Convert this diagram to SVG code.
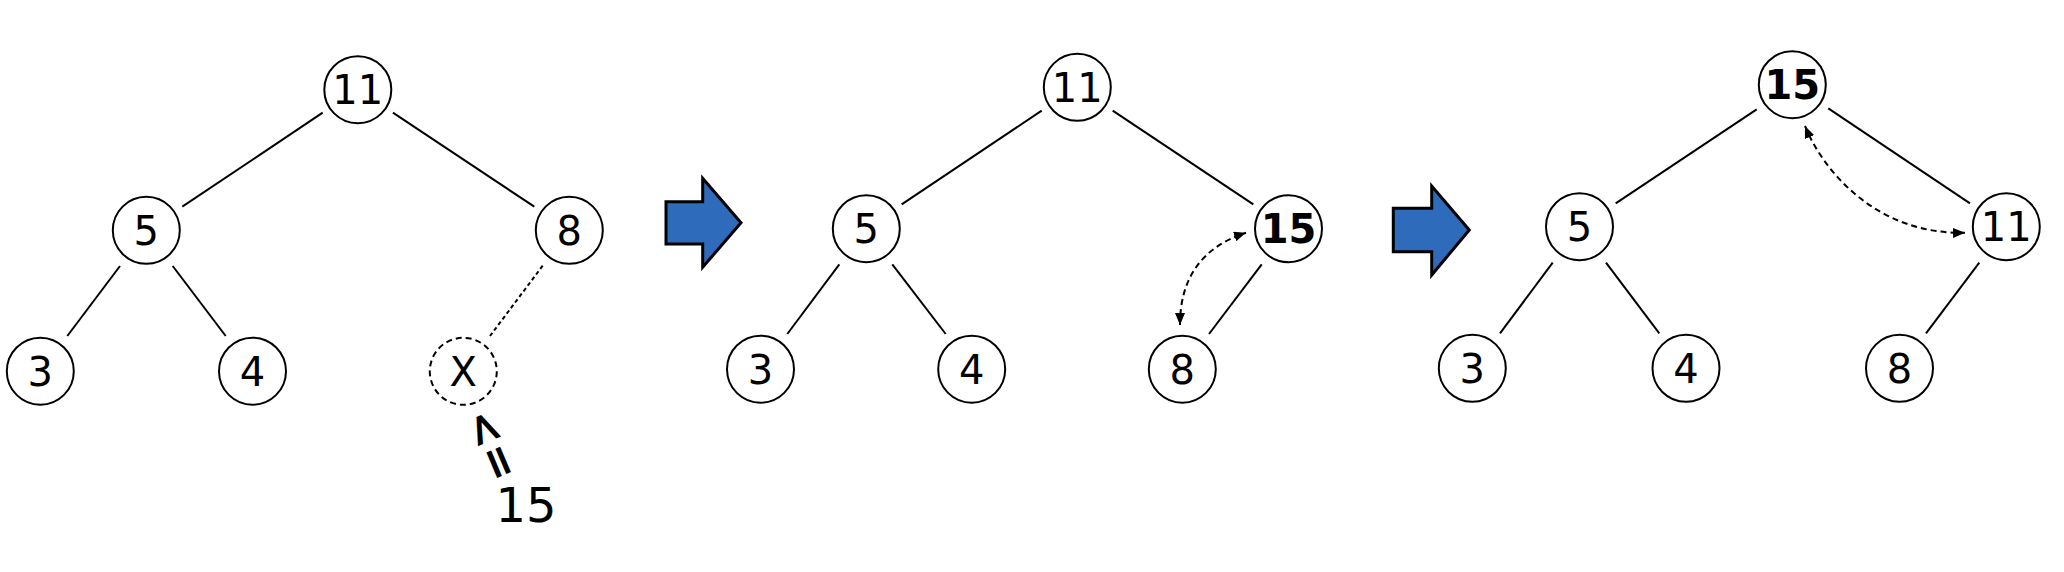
<svg xmlns="http://www.w3.org/2000/svg" width="2064" height="572" viewBox="0 0 2064 572">
<style>
.n{fill:#fff;stroke:#000;stroke-width:2}
.nd{fill:#fff;stroke:#000;stroke-width:2;stroke-dasharray:6 4}
.t{font-family:"DejaVu Sans",sans-serif;font-size:40px;text-anchor:middle;fill:#000}
.b{font-weight:bold}
.e{stroke:#000;stroke-width:2;fill:none}
.dot{stroke:#000;stroke-width:2;fill:none;stroke-dasharray:4 3}
.sw{stroke:#000;stroke-width:2;fill:none;stroke-dasharray:6 4}
.big{fill:#2F6BBB;stroke:#000;stroke-width:3}
</style>
<defs>
<marker id="ah" viewBox="0 0 12 10" refX="12" refY="5" markerWidth="12" markerHeight="10" markerUnits="userSpaceOnUse" orient="auto-start-reverse">
<path d="M0,0 L12,5 L0,10 Z" fill="#000"/>
</marker>
</defs>
<rect width="2064" height="572" fill="#fff"/>
<g id="connectors">
<line class="e" x1="322.7" y1="112.7" x2="182.3" y2="206.7"/>
<line class="e" x1="392.9" y1="112.7" x2="534.3" y2="206.7"/>
<line class="e" x1="120" y1="266" x2="67.3" y2="336"/>
<line class="e" x1="172.7" y1="266" x2="225.7" y2="336"/>
<line class="dot" x1="542.7" y1="265.7" x2="490" y2="336"/>
<line class="e" x1="1041.7" y1="110.7" x2="901.7" y2="204.3"/>
<line class="e" x1="1112.7" y1="110.7" x2="1253.3" y2="204.3"/>
<line class="e" x1="839.3" y1="264.3" x2="787.3" y2="334"/>
<line class="e" x1="892.3" y1="264.3" x2="945.7" y2="334"/>
<line class="e" x1="1261.7" y1="264.3" x2="1209" y2="334"/>
<path class="sw" d="M1180,325 C1180,280 1200,248 1246,232.7" marker-start="url(#ah)" marker-end="url(#ah)"/>
<line class="e" x1="1756.7" y1="109.3" x2="1615.7" y2="203.3"/>
<line class="e" x1="1828.3" y1="108.3" x2="1970" y2="203.3"/>
<line class="e" x1="1552.7" y1="262.7" x2="1500" y2="333.3"/>
<line class="e" x1="1606" y1="262.7" x2="1659.3" y2="333.3"/>
<line class="e" x1="1979.3" y1="262.7" x2="1926" y2="333.3"/>
<path class="sw" d="M1805,126 C1825,175 1880,235 1965,232.7" marker-start="url(#ah)" marker-end="url(#ah)"/>
</g>
<g id="step-arrow-1"><polygon class="big" points="666,201.7 702.7,201.7 702.7,178.3 741,222.7 702.7,267.3 702.7,244 666,244"/></g>
<g id="step-arrow-2"><polygon class="big" points="1393.3,208.3 1431.7,208.3 1431.7,186 1469.3,230 1431.7,275 1431.7,251.7 1393.3,251.7"/></g>
<g id="t1-11"><circle class="n" cx="357.8" cy="89.7" r="33.5"/><text class="t" x="357.8" y="104.1">11</text></g>
<g id="t1-5"><circle class="n" cx="146.3" cy="230.3" r="33.5"/><text class="t" x="146.3" y="244.7">5</text></g>
<g id="t1-8"><circle class="n" cx="569.3" cy="230.3" r="33.5"/><text class="t" x="569.3" y="244.7">8</text></g>
<g id="t1-3"><circle class="n" cx="40.3" cy="371.2" r="33.5"/><text class="t" x="40.3" y="385.6">3</text></g>
<g id="t1-4"><circle class="n" cx="252.5" cy="371.2" r="33.5"/><text class="t" x="252.5" y="385.6">4</text></g>
<g id="t1-x"><circle class="nd" cx="463.3" cy="371.3" r="33.5"/><text class="t" x="463.3" y="385.7">X</text></g>
<g id="label-le-15">
<text font-family="DejaVu Sans, sans-serif" font-size="44" font-weight="bold" text-anchor="middle" transform="translate(492.5,445) rotate(67)" y="15">&lt;=</text>
<text font-family="DejaVu Sans, sans-serif" font-size="48" text-anchor="middle" x="526" y="521.5">15</text>
</g>
<g id="t2-11"><circle class="n" cx="1077.3" cy="87.3" r="33.5"/><text class="t" x="1077.3" y="101.7">11</text></g>
<g id="t2-5"><circle class="n" cx="866.3" cy="228.7" r="33.5"/><text class="t" x="866.3" y="243.1">5</text></g>
<g id="t2-15"><circle class="n" cx="1288.5" cy="228.7" r="33.5"/><text class="t b" x="1288.5" y="243.1">15</text></g>
<g id="t2-3"><circle class="n" cx="760.5" cy="369.2" r="33.5"/><text class="t" x="760.5" y="383.6">3</text></g>
<g id="t2-4"><circle class="n" cx="971.7" cy="369.2" r="33.5"/><text class="t" x="971.7" y="383.6">4</text></g>
<g id="t2-8"><circle class="n" cx="1182.3" cy="369.2" r="33.5"/><text class="t" x="1182.3" y="383.6">8</text></g>
<g id="t3-15"><circle class="n" cx="1792.3" cy="84.7" r="33.5"/><text class="t b" x="1792.3" y="99.1">15</text></g>
<g id="t3-5"><circle class="n" cx="1579.5" cy="226.7" r="33.5"/><text class="t" x="1579.5" y="241.1">5</text></g>
<g id="t3-11"><circle class="n" cx="2006.3" cy="226.7" r="33.5"/><text class="t" x="2006.3" y="241.1">11</text></g>
<g id="t3-3"><circle class="n" cx="1472.3" cy="368.3" r="33.5"/><text class="t" x="1472.3" y="382.7">3</text></g>
<g id="t3-4"><circle class="n" cx="1686" cy="368.3" r="33.5"/><text class="t" x="1686" y="382.7">4</text></g>
<g id="t3-8"><circle class="n" cx="1899.5" cy="368.3" r="33.5"/><text class="t" x="1899.5" y="382.7">8</text></g>
</svg>
